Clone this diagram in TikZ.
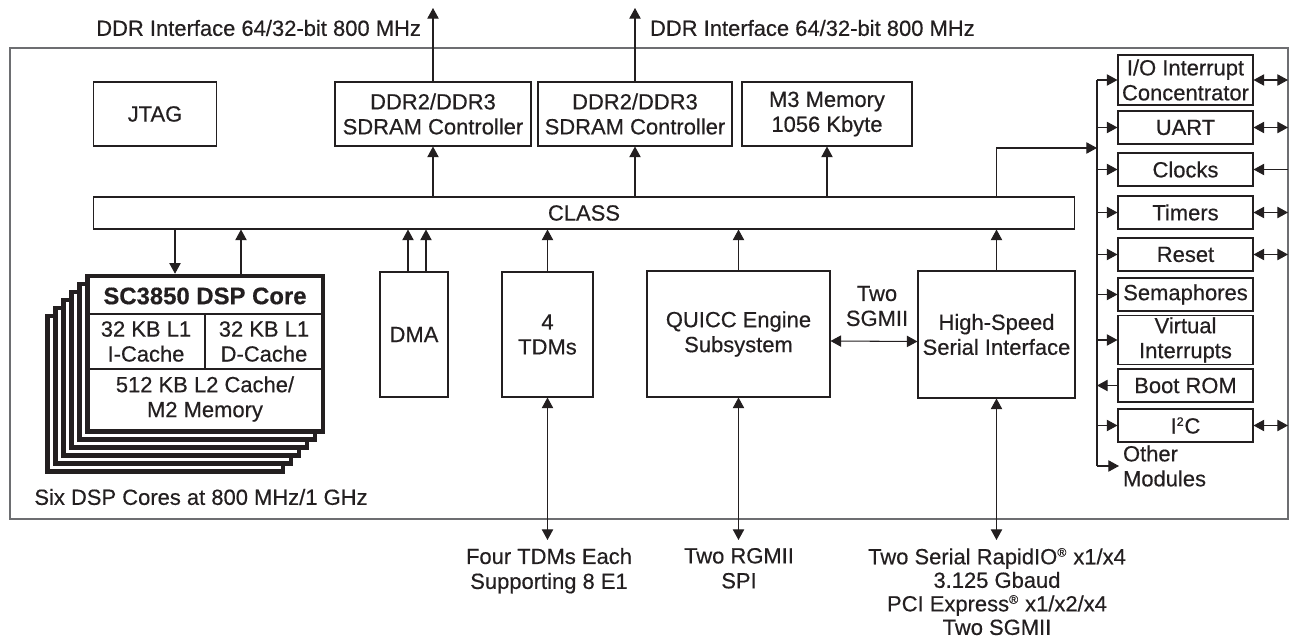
\documentclass[tikz,border=0pt]{standalone}
\usepackage{fontspec}
\setmainfont{Liberation Sans}[FakeBold=0.45]
\usetikzlibrary{arrows.meta}
\definecolor{ink}{HTML}{231F20}
\definecolor{framegray}{HTML}{6D6E71}
\tikzstyle{block} = [rectangle, draw=ink, line width=0.6pt, fill=white, text=ink, align=center, inner sep=1pt]
\tikzstyle{periph} = [block, minimum width=2.7cm, minimum height=0.66cm]
\tikzstyle{corebox} = [rectangle, draw=ink, line width=2.6pt, fill=white, minimum width=4.71cm, minimum height=3.11cm]
\tikzstyle{ext} = [text=ink, align=center, inner sep=2pt]

\begin{document}
\begin{tikzpicture}[x=0.02cm, y=-0.02cm, font=\fontsize{12.5}{14.2}\selectfont,
    >={Triangle[length=6pt,width=6.4pt]}, line width=0.6pt, draw=ink]
    \useasboundingbox (0,0) rectangle (1289,638);
    % chip outline
    \draw[framegray, line width=0.8pt] (10,48) rectangle (1288,519);

    % top row
    \node[block, minimum width=2.46cm, minimum height=1.28cm] (jtag) at (155,114) {JTAG};
    \node[block, minimum width=3.92cm, minimum height=1.28cm] (ctrlA) at (433,114) {DDR2/DDR3\\SDRAM Controller};
    \node[block, minimum width=3.88cm, minimum height=1.28cm] (ctrlB) at (635,114) {DDR2/DDR3\\SDRAM Controller};
    \node[block, minimum width=3.4cm, minimum height=1.28cm] (m3) at (827,114) {M3 Memory\\1056 Kbyte};
    \node[block, minimum width=19.64cm, minimum height=0.64cm] (class) at (584,213) {CLASS};

    % six cores, back to front
    \foreach \k in {5,4,3,2,1}
        \node[corebox] (core\k) at (205.25-8*\k,353.75+8*\k) {};
    \node[corebox] (core) at (205.25,353.75) {};
    \draw[line width=0.6pt] (core.west |- 0,314) -- (core.east |- 0,314);
    \draw[line width=0.6pt] (core.west |- 0,369) -- (core.east |- 0,369);
    \draw[line width=0.6pt] (205,314) -- (205,369);
    \node[ext, font=\fontsize{13.6}{16}\selectfont\bfseries] (coretitle) at (205,296) {SC3850 DSP Core};
    \node[ext] (icache) at (146,341.5) {32 KB L1\\I-Cache};
    \node[ext] (dcache) at (264,341.5) {32 KB L1\\D-Cache};
    \node[ext] (l2) at (205,399) {512 KB L2 Cache/\\M2 Memory};
    \node[ext] (cores) at (201,497) {Six DSP Cores at 800 MHz/1 GHz};

    % middle row
    \node[block, minimum width=1.36cm, minimum height=2.5cm] (dma) at (414,334.5) {DMA};
    \node[block, minimum width=1.82cm, minimum height=2.5cm] (tdm) at (547.5,334.5) {4\\TDMs};
    \node[block, minimum width=3.66cm, minimum height=2.52cm] (quicc) at (738.5,334) {QUICC Engine\\Subsystem};
    \node[block, minimum width=3.14cm, minimum height=2.54cm] (hssi) at (996.5,334.5) {High-Speed\\Serial Interface};
    \node[ext] (sgmii) at (877,306) {Two\\SGMII};

    % peripherals
    \node[periph, minimum height=1cm] (ioic) at (1185.5,80) {I/O Interrupt\\Concentrator};
    \node[periph] (uart) at (1185.5,127.5) {UART};
    \node[periph] (clocks) at (1185.5,169.5) {Clocks};
    \node[periph] (timers) at (1185.5,212.5) {Timers};
    \node[periph] (reset) at (1185.5,254.5) {Reset};
    \node[periph] (sema) at (1185.5,294.5) {Semaphores};
    \node[periph, minimum height=0.92cm] (virt) at (1185.5,340) {Virtual\\Interrupts};
    \node[periph] (boot) at (1185.5,385.5) {Boot ROM};
    \node[periph] (i2c) at (1185.5,425.5) {I\textsuperscript{\fontsize{7}{7}\selectfont 2}C};
    \node[ext, anchor=west, align=left] (other) at (1119,466) {Other\\Modules};

    % outside labels
    \node[ext, anchor=east] (ddrA) at (425,28) {DDR Interface 64/32-bit 800 MHz};
    \node[ext, anchor=west] (ddrB) at (646,28) {DDR Interface 64/32-bit 800 MHz};
    \node[ext, anchor=north] (tdmlbl) at (549,544) {Four TDMs Each\\Supporting 8 E1};
    \node[ext, anchor=north] (quicclbl) at (739,544) {Two RGMII\\SPI};
    \node[ext, anchor=north, font=\fontsize{12.5}{13.4}\selectfont] (hssilbl) at (997,544)
        {Two Serial RapidIO\textsuperscript{\fontsize{7}{7}\selectfont ®} x1/x4\\3.125 Gbaud\\PCI Express\textsuperscript{\fontsize{7}{7}\selectfont ®} x1/x2/x4\\Two SGMII};

    \coordinate (ddrtop) at (0,8);
    \coordinate (outrow) at (0,540);
    \coordinate (bus) at (1097,0);
    \coordinate (edge) at (1288,0);
    \coordinate (tobus) at (1097,148);
    \coordinate (cdown) at ([xshift=-0.605cm]core.north);
    \coordinate (cup) at ([xshift=0.715cm]core.north);
    \coordinate (dmaA) at ([xshift=-0.12cm]dma.north);
    \coordinate (dmaB) at ([xshift=0.24cm]dma.north);

    \draw (ioic.west -| bus) -- (bus |- other.west);
    \begin{scope}[->]
        \draw (ctrlA.north) -- (ctrlA.north |- ddrtop);
        \draw (ctrlB.north) -- (ctrlB.north |- ddrtop);
        \draw (class.north -| ctrlA.south) -- (ctrlA.south);
        \draw (class.north -| ctrlB.south) -- (ctrlB.south);
        \draw (class.north -| m3.south) -- (m3.south);
        \draw (cdown |- class.south) -- (cdown);
        \draw (cup) -- (cup |- class.south);
        \draw (dmaA) -- (dmaA |- class.south);
        \draw (dmaB) -- (dmaB |- class.south);
        \draw (tdm.north) -- (tdm.north |- class.south);
        \draw (quicc.north) -- (quicc.north |- class.south);
        \draw (hssi.north) -- (hssi.north |- class.south);
        \draw (hssi.north |- class.north) |- (tobus);
        \foreach \m in {ioic,uart,clocks,timers,reset,sema,virt,i2c}
            \draw (\m.west -| bus) -- (\m.west);
        \draw (boot.west) -- (boot.west -| bus);
        \draw (bus |- other.west) -- (other.west);
        \draw (clocks.east -| edge) -- (clocks.east);
    \end{scope}
    \begin{scope}[<->]
        \draw ([yshift=-0.14cm]quicc.east) -- ([yshift=-0.14cm]hssi.west);
        \draw (tdm.south) -- (tdm.south |- outrow);
        \draw (quicc.south) -- (quicc.south |- outrow);
        \draw (hssi.south) -- (hssi.south |- outrow);
        \foreach \m in {ioic,uart,timers,reset,i2c}
            \draw (\m.east) -- (\m.east -| edge);
    \end{scope}
\end{tikzpicture}
\end{document}
